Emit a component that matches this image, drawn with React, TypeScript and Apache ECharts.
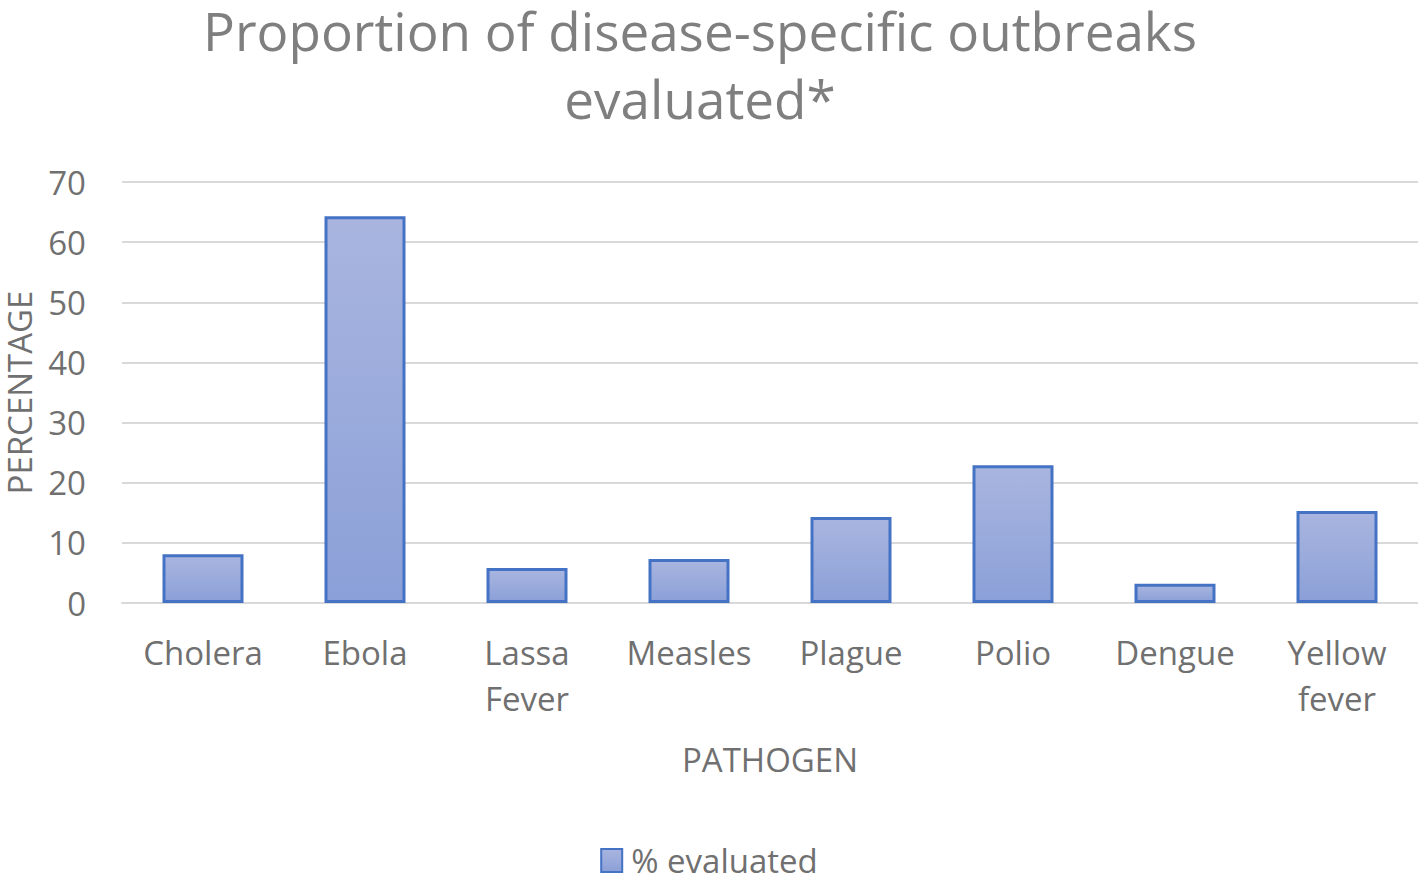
import React, { useEffect, useRef } from "react";
import * as echarts from "echarts";

const categories = ["Cholera", "Ebola", "Lassa\nFever", "Measles", "Plague", "Polio", "Dengue", "Yellow\nfever"];
const evaluated = [8.1, 64.3, 5.8, 7.3, 14.3, 22.9, 3.2, 15.3];
const seriesName = "% evaluated";
const titleLines = ["Proportion of disease-specific outbreaks", "evaluated*"];

const FONT = "'Open Sans', 'Noto Sans', sans-serif";
const GREY = "#707070";

export default function App() {
  const ref = useRef<HTMLDivElement>(null);
  useEffect(() => {
    if (!ref.current) return;
    const chart = echarts.init(ref.current, undefined, { renderer: "svg" });
    const fill = new echarts.graphic.LinearGradient(0, 0, 0, 1, [
      { offset: 0, color: "#a9b5df" },
      { offset: 1, color: "#8ba0d8" },
    ]);
    const titleStyle = { fontFamily: FONT, fontSize: 53, fontWeight: "normal", color: "#7f7f7f", lineHeight: 56 };
    chart.setOption({
      animation: false,
      backgroundColor: "#ffffff",
      textStyle: { fontFamily: FONT },
      title: [
        { text: titleLines[0], left: 700, textAlign: "center", top: 2, padding: 0, textStyle: titleStyle },
        { text: titleLines[1], left: 700, textAlign: "center", top: 70, padding: 0, textStyle: titleStyle },
      ],
      legend: {
        bottom: 0,
        left: "center",
        itemWidth: 21,
        itemHeight: 23,
        textStyle: { fontFamily: FONT, fontSize: 33, color: GREY, padding: [0, 0, 0, 4] },
        data: [{ name: seriesName, icon: "rect" }],
      },
      grid: { left: 122, right: 0, top: 182, bottom: 279, containLabel: false, outerBoundsMode: "none" },
      xAxis: {
        type: "category",
        data: categories,
        name: "PATHOGEN",
        nameLocation: "middle",
        nameGap: 140,
        nameTextStyle: { fontFamily: FONT, fontSize: 33, color: GREY },
        axisLine: { show: true, lineStyle: { color: "#d9d9d9", width: 2 } },
        axisTick: { show: false },
        axisLabel: { fontFamily: FONT, fontSize: 33, color: GREY, margin: 26, lineHeight: 46, interval: 0 },
      },
      yAxis: {
        type: "value",
        min: 0,
        max: 70,
        interval: 10,
        name: "PERCENTAGE",
        nameLocation: "middle",
        nameGap: 86,
        nameRotate: 90,
        nameTextStyle: { fontFamily: FONT, fontSize: 33, color: GREY },
        axisLine: { show: false },
        axisTick: { show: false },
        axisLabel: { fontFamily: FONT, fontSize: 33, color: GREY, margin: 36 },
        splitLine: { lineStyle: { color: "#d9d9d9", width: 2 } },
      },
      series: [
        {
          name: seriesName,
          type: "bar",
          data: evaluated,
          barWidth: "50%",
          itemStyle: { color: fill, borderColor: "#4472c4", borderWidth: 3 },
        },
      ],
    });
    return () => chart.dispose();
  }, []);
  return <div ref={ref} style={{ position: "fixed", left: 0, top: 0, width: 1418, height: 882 }} />;
}
